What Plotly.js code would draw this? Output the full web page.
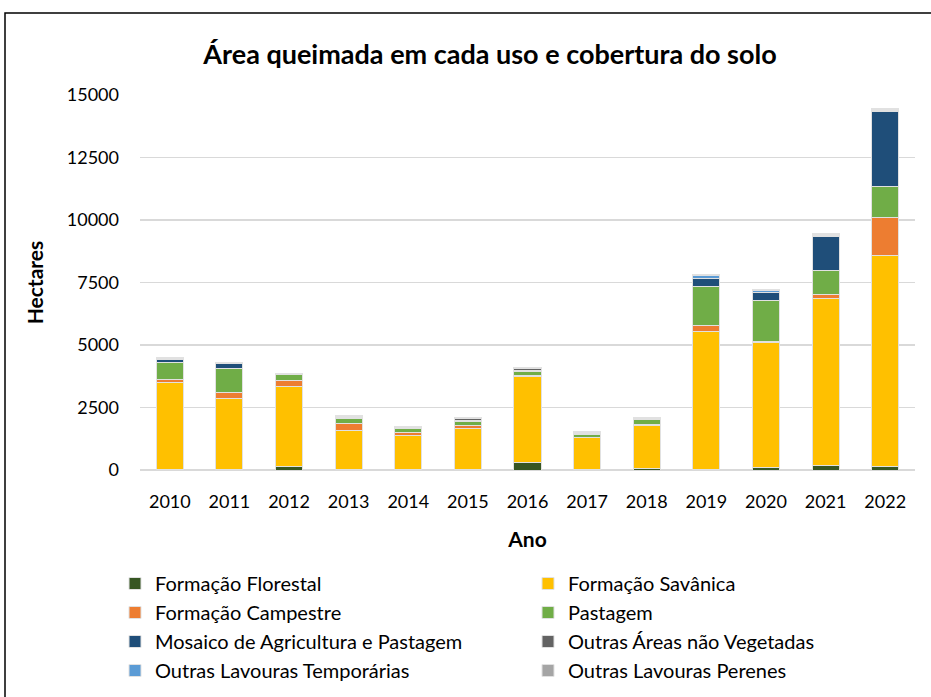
<!DOCTYPE html>
<html>
<head>
<meta charset="utf-8">
<script src="https://cdn.plot.ly/plotly-3.0.1.min.js"></script>
<style>html,body{margin:0;padding:0;background:#fff}#chart{width:931px;height:697px}</style>
</head>
<body>
<div id="chart"></div>
<script>
const anos = ['2010','2011','2012','2013','2014','2015','2016','2017','2018','2019','2020','2021','2022'];
const formacaoFlorestal   = [20, 20, 160, 10, 10, 20, 310, 10, 50, 20, 90, 190, 150];
const formacaoSavanica    = [3480, 2830, 3170, 1570, 1390, 1630, 3450, 1280, 1750, 5540, 5000, 6690, 8420];
const formacaoCampestre   = [130, 270, 270, 290, 120, 120, 20, 20, 20, 240, 55, 130, 1520];
const pastagem            = [670, 950, 210, 190, 130, 170, 170, 120, 190, 1560, 1630, 960, 1250];
const mosaico             = [130, 200, 30, 40, 30, 60, 40, 40, 20, 290, 310, 1390, 3020];
const outrasNaoVegetadas  = [20, 10, 10, 50, 20, 50, 60, 40, 10, 20, 10, 30, 30];
const lavourasTemporarias = [20, 20, 10, 10, 20, 20, 10, 10, 30, 120, 100, 20, 40];
const lavourasPerenes     = [30, 10, 10, 30, 30, 30, 40, 20, 20, 20, 10, 40, 50];
const yTicks = [0, 2500, 5000, 7500, 10000, 12500, 15000];

const FONT = 'Lato, "Open Sans", sans-serif';
const series = [
  {name: 'Formação Florestal', y: formacaoFlorestal, color: '#375623', legend: 'legend'},
  {name: 'Formação Savânica', y: formacaoSavanica, color: '#FFC000', legend: 'legend2'},
  {name: 'Formação Campestre', y: formacaoCampestre, color: '#ED7D31', legend: 'legend'},
  {name: 'Pastagem', y: pastagem, color: '#70AD47', legend: 'legend2'},
  {name: 'Mosaico de Agricultura e Pastagem', y: mosaico, color: '#1F4E79', legend: 'legend'},
  {name: 'Outras Áreas não Vegetadas', y: outrasNaoVegetadas, color: '#636363', legend: 'legend2'},
  {name: 'Outras Lavouras Temporárias', y: lavourasTemporarias, color: '#5B9BD5', legend: 'legend'},
  {name: 'Outras Lavouras Perenes', y: lavourasPerenes, color: '#A5A5A5', legend: 'legend2'}
];
const traces = series.map(s => ({
  type: 'bar', name: s.name, x: anos, y: s.y, legend: s.legend,
  marker: {color: s.color, line: {color: 'rgba(225,225,225,1)', width: 1}},
  hoverinfo: 'name+y'
}));

const W = 931, H = 697, ML = 140, MR = 16, MT = 95, MB = 227;
const PW = W - ML - MR, PH = H - MT - MB;
const px = v => (v - ML) / PW;
const py = v => (H - MB - v) / PH;

const legendFont = {family: FONT, size: 20, color: '#000'};
const layout = {
  width: W, height: H,
  margin: {l: ML, r: MR, t: MT, b: MB, pad: 0, autoexpand: false},
  paper_bgcolor: '#fff', plot_bgcolor: '#fff',
  barmode: 'stack', bargap: 0.545,
  font: {family: FONT, color: '#000'},
  title: {text: '<b>Área queimada em cada uso e cobertura do solo</b>', x: 490 / W, xref: 'container', xanchor: 'center',
          y: 1 - 55 / H, yref: 'container', yanchor: 'middle', font: {family: FONT, size: 27, color: '#000'}},
  xaxis: {
    type: 'category', showgrid: false, zeroline: false, showline: false,
    ticks: 'outside', ticklen: 15, tickcolor: 'rgba(0,0,0,0)',
    tickfont: {family: FONT, size: 18, color: '#000'},
    title: {text: '<b>Ano</b>', font: {family: FONT, size: 21, color: '#000'}, standoff: 21}
  },
  yaxis: {
    range: [0, 15000], tickvals: yTicks, ticktext: yTicks.map(String),
    showgrid: true, gridcolor: '#d9d9d9', gridwidth: 1.5, zeroline: true, zerolinecolor: '#d9d9d9', zerolinewidth: 1.5,
    showline: false, ticklabelstandoff: 20,
    tickfont: {family: FONT, size: 18, color: '#000'},
    title: {text: '<b>Hectares</b>', font: {family: FONT, size: 21, color: '#000'}, standoff: 17}
  },
  legend: {x: px(115), xanchor: 'left', y: py(564), yanchor: 'top', orientation: 'v', traceorder: 'normal',
           font: legendFont, bgcolor: 'rgba(0,0,0,0)', itemclick: false},
  legend2: {x: px(528), xanchor: 'left', y: py(564), yanchor: 'top', orientation: 'v', traceorder: 'normal',
            font: legendFont, bgcolor: 'rgba(0,0,0,0)', itemclick: false},
  shapes: [{type: 'rect', xref: 'paper', yref: 'paper', x0: px(5), x1: px(945), y0: py(710), y1: py(13),
            line: {color: '#000', width: 1.5}, fillcolor: 'rgba(0,0,0,0)', layer: 'above'}]
};
Plotly.newPlot('chart', traces, layout, {displayModeBar: false, staticPlot: true});
</script>
</body>
</html>
